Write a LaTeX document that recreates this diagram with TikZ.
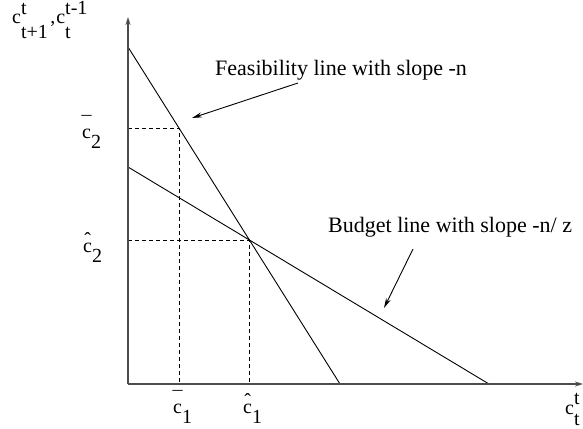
\documentclass[tikz,border=0pt]{standalone}
\usepackage{fontspec}
\setmainfont{Liberation Serif}
\usetikzlibrary{arrows.meta,intersections,calc}
\newcommand\mybarc{\ooalign{c\cr\hidewidth\raisebox{0.36em}{¯}\hidewidth\cr}}
\newcommand\myhatc{\ooalign{c\cr\hidewidth\raisebox{0.28em}{ˆ}\hidewidth\cr}}
\newcommand\mysupsub[3]{\ooalign{\raisebox{#3}{#1}\hfil\cr\raisebox{-0.72em}{#2}\hfil\cr}}
\newcommand\mysub[1]{\raisebox{-0.5em}{#1}}
\begin{document}
\begin{tikzpicture}[x=1pt,y=-1pt,
  axis/.style={line width=1.3pt, draw=black!70, -{Stealth[length=8pt,width=5pt]}},
  curve/.style={line width=0.9pt},
  guide/.style={line width=0.9pt, dash pattern=on 4pt off 3pt},
  note/.style={line width=0.9pt, -{Stealth[length=10pt,width=5pt]}},
  lbl/.style={inner sep=0pt, anchor=base west, font=\fontsize{20}{24}\selectfont},
  ann/.style={inner sep=0pt, anchor=base west, font=\fontsize{22}{26}\selectfont}]
\useasboundingbox (0,0) rectangle (583,428);
\coordinate (O) at (128,384);
\coordinate (Ytop) at (128,17);
\coordinate (Xend) at (583,384);
\coordinate (F1) at (128,47);
\coordinate (F2) at (340,384);
\coordinate (B1) at (128,167);
\coordinate (B2) at (489,384);
\draw[curve, name path=feas] (F1) -- (F2);
\draw[curve, name path=budg] (B1) -- (B2);
\path[name intersections={of=feas and budg, by=H}];
\coordinate (Bar) at ($(F1)!0.2406!(F2)$);
\draw[guide] (O |- Bar) -- (Bar) -- (Bar |- O);
\draw[guide] (O |- H) -- (H) -- (H |- O);
\draw[axis] (O) -- (Ytop);
\draw[axis] (O) -- (Xend);
% labels
\node[lbl] (ylab) at (12,24) {c\mysupsub{t}{t+1}{0.48em}\hspace{0.12em},\hspace{0.05em}c\mysupsub{t-1}{t}{0.48em}};
\node[lbl] (xlab) at (565,414) {c\ooalign{\raisebox{0.5em}{t}\cr\raisebox{-0.55em}{t}\cr}};
\node[lbl] (c2bar) at (82,138) {\mybarc\mysub{2}};
\node[lbl] (c2hat) at (83,252) {\myhatc\mysub{2}};
\node[lbl] (c1bar) at (173,413) {\mybarc\mysub{1}};
\node[lbl] (c1hat) at (243,413) {\myhatc\mysub{1}};
% annotations
\node[ann] (feastext) at (215,75) {Feasibility line with slope -n};
\node[ann] (budgtext) at (328,232) {Budget line with slope -n/ z};
\coordinate (fa) at (298,83);
\coordinate (ft) at (192,118);
\coordinate (ba) at (413,249);
\coordinate (bt) at (384,308);
\draw[note] (fa) -- (ft);
\draw[note] (ba) -- (bt);
\end{tikzpicture}
\end{document}
